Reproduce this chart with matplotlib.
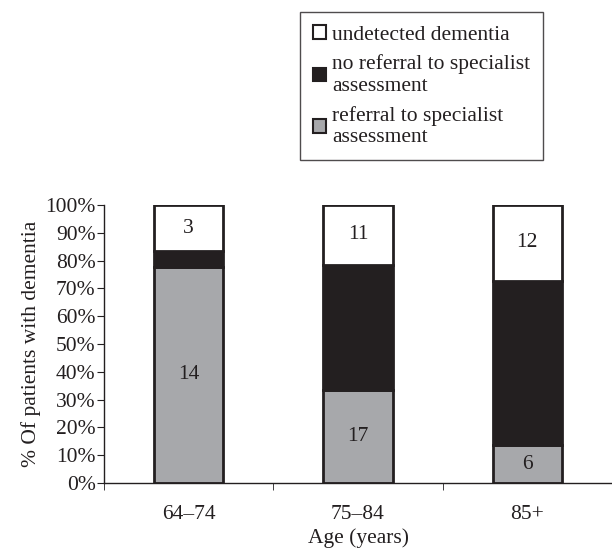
import matplotlib.pyplot as plt
from matplotlib.patches import Patch
import numpy as np

plt.rcParams['font.family'] = ['Liberation Serif', 'DejaVu Serif']

age_groups = ["64\u201374", "75\u201384", "85+"]
referral = [14, 17, 6]
no_referral = [1, 23, 26]
undetected = [3, 11, 12]

ref = np.array(referral, dtype=float)
noref = np.array(no_referral, dtype=float)
undet = np.array(undetected, dtype=float)
total = ref + noref + undet
p_ref = ref / total * 100
p_noref = noref / total * 100
p_undet = undet / total * 100

c_gray = "#a7a8ab"
c_black = "#231f20"
fs = 15.5

fig = plt.figure(figsize=(6.12, 5.54), dpi=100)
ax = fig.add_axes([0.170, 0.128, 0.830, 0.502])

x = np.arange(len(age_groups))
w = 0.41
kw = dict(width=w, edgecolor=c_black, linewidth=2.0)
ax.bar(x, p_ref, color=c_gray, **kw)
ax.bar(x, p_noref, bottom=p_ref, color=c_black, **kw)
ax.bar(x, p_undet, bottom=p_ref + p_noref, color="white", **kw)

# count labels
for i in range(len(x)):
    ax.text(x[i], p_ref[i] / 2, str(referral[i]), ha="center", va="center",
            fontsize=fs, color=c_black)
    top = p_ref[i] + p_noref[i]
    ax.text(x[i], (top + 100) / 2, str(undetected[i]), ha="center", va="center",
            fontsize=fs, color=c_black)

ax.set_xlim(-0.5, 2.5)
ax.set_ylim(0, 100)
ax.set_yticks(np.arange(0, 101, 10))
ax.set_yticklabels([f"{v}%" for v in range(0, 101, 10)], fontsize=fs, color=c_black)
ax.set_xticks(x)
ax.set_xticklabels(age_groups, fontsize=fs, color=c_black)
ax.set_xticks([-0.5, 0.5, 1.5, 2.5], minor=True)
ax.tick_params(axis="x", which="major", length=0, pad=16)
ax.tick_params(axis="x", which="minor", length=5, direction="out", color=c_black)
ax.tick_params(axis="y", length=5, direction="out", color=c_black, pad=1)
for s in ["top", "right"]:
    ax.spines[s].set_visible(False)
for s in ["left", "bottom"]:
    ax.spines[s].set_color(c_black)
    ax.spines[s].set_linewidth(1.0)

ax.set_ylabel("% Of patients with dementia", fontsize=fs, color=c_black, labelpad=3)
ax.set_xlabel("Age (years)", fontsize=fs, color=c_black, labelpad=3)

handles = [
    Patch(facecolor="white", edgecolor=c_black, linewidth=1.5),
    Patch(facecolor=c_black, edgecolor=c_black, linewidth=1.5),
    Patch(facecolor=c_gray, edgecolor=c_black, linewidth=1.5),
]
labels = ["undetected dementia",
          "no referral to specialist\nassessment",
          "referral to specialist\nassessment"]
leg = fig.legend(handles, labels, loc="upper left", bbox_to_anchor=(0.490, 0.978),
                 frameon=True, fancybox=False, fontsize=fs, handlelength=0.6,
                 handleheight=0.6, handletextpad=0.3, labelspacing=0.45,
                 borderpad=0.6, borderaxespad=0)
leg.get_frame().set_edgecolor(c_black)
leg.get_frame().set_linewidth(1.0)
for t in leg.get_texts():
    t.set_color(c_black)

fig.savefig("out.png", dpi=100)
